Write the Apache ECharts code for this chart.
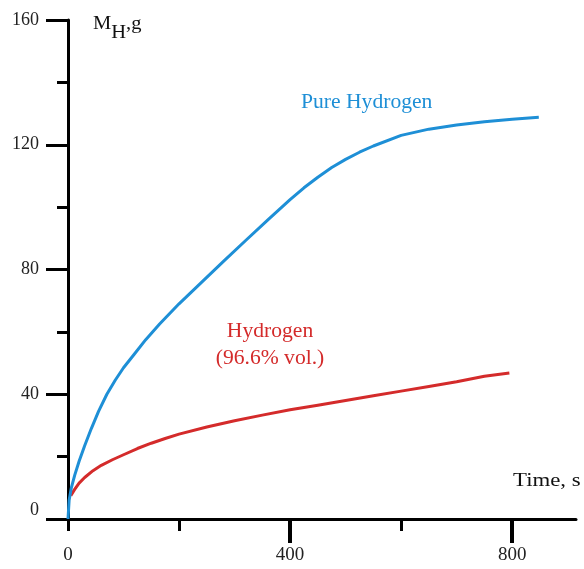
<!DOCTYPE html>
<html>
<head>
<meta charset="utf-8">
<script src="https://cdn.jsdelivr.net/npm/echarts@6/dist/echarts.min.js"></script>
<style>
  html, body { margin: 0; padding: 0; background: #fff; }
  #chart { width: 584px; height: 569px; }
</style>
</head>
<body>
<div id="chart"></div>
<script>
// Hydrogen mass absorbed over time
const pureTime = [0, 2, 6, 12, 20, 30, 42, 55, 70, 85, 100, 120, 140, 165, 200, 240, 280, 320, 360, 400, 425, 450, 475, 500, 525, 550, 600, 650, 700, 750, 800, 848];
const pureMass = [0, 6, 10, 14, 18.5, 23.5, 29, 34.5, 40, 44.5, 48.5, 53, 57.5, 62.5, 69, 75.8, 82.6, 89.3, 95.9, 102.4, 106.2, 109.6, 112.7, 115.3, 117.6, 119.6, 123, 125, 126.3, 127.4, 128.2, 128.8];

const mixTime = [5, 12, 20, 30, 45, 60, 80, 100, 125, 150, 175, 200, 250, 300, 350, 400, 450, 500, 550, 600, 650, 700, 750, 795];
const mixMass = [7.5, 9.5, 11.5, 13.3, 15.5, 17.2, 19, 20.6, 22.6, 24.3, 25.8, 27.2, 29.5, 31.5, 33.3, 35, 36.5, 38, 39.5, 41, 42.5, 44, 45.8, 46.8];

const xMajorTicks = [400, 800];
const xMinorTicks = [0, 200, 600];
const xLabels = [0, 400, 800];
const yMajorTicks = [0, 40, 80, 120, 160];
const yMinorTicks = [20, 60, 100, 140];

const BLUE = '#1e8fd6';
const RED = '#d42b2b';
const FONT = '"Liberation Serif", "Times New Roman", serif';

const zip = (xs, ys) => xs.map((x, i) => [x, ys[i]]);

const chart = echarts.init(document.getElementById('chart'));

const baseX = { type: 'value', min: 0, max: 915, position: 'bottom', splitLine: { show: false } };
const baseY = { type: 'value', min: 0, max: 160, position: 'left', splitLine: { show: false } };

chart.setOption({
  animation: false,
  grid: { left: 68, top: 20, right: 8, bottom: 50, containLabel: false },
  xAxis: [
    Object.assign({}, baseX, {
      axisLine: { show: true, lineStyle: { color: '#000', width: 3 } },
      axisTick: { show: true, customValues: xMajorTicks, length: 24, lineStyle: { color: '#000', width: 4 } },
      axisLabel: { show: true, customValues: xLabels, margin: 27, color: '#222', fontFamily: FONT, fontSize: 19 }
    }),
    Object.assign({}, baseX, {
      axisLine: { show: false },
      axisTick: { show: true, customValues: xMinorTicks, length: 12, lineStyle: { color: '#000', width: 3 } },
      axisLabel: { show: false }
    })
  ],
  yAxis: [
    Object.assign({}, baseY, {
      axisLine: { show: true, lineStyle: { color: '#000', width: 3 } },
      axisTick: { show: true, customValues: yMajorTicks, length: 22, lineStyle: { color: '#000', width: 3 } },
      axisLabel: {
        show: true, customValues: yMajorTicks, margin: 29, color: '#222', fontFamily: FONT, fontSize: 18,
        formatter: v => v === 0 ? '{z|0}' : String(v),
        rich: { z: { fontFamily: FONT, fontSize: 18, color: '#222', padding: [0, 0, 18, 0] } }
      }
    }),
    Object.assign({}, baseY, {
      axisLine: { show: false },
      axisTick: { show: true, customValues: yMinorTicks, length: 11, lineStyle: { color: '#000', width: 3 } },
      axisLabel: { show: false }
    })
  ],
  series: [
    {
      name: 'Pure Hydrogen', type: 'line', xAxisIndex: 0, yAxisIndex: 0,
      data: zip(pureTime, pureMass), showSymbol: false, symbol: 'none',
      lineStyle: { color: BLUE, width: 3 }, z: 3
    },
    {
      name: 'Hydrogen (96.6% vol.)', type: 'line', xAxisIndex: 0, yAxisIndex: 0,
      data: zip(mixTime, mixMass), showSymbol: false, symbol: 'none',
      lineStyle: { color: RED, width: 3 }, z: 2
    }
  ],
  graphic: [
    {
      type: 'text', x: 93, y: 15, scaleX: 1.08,
      style: {
        text: '{a|M}{b|H}{a|,g}',
        rich: {
          a: { fontFamily: FONT, fontSize: 19, lineHeight: 20, fill: '#111', color: '#111', verticalAlign: 'top' },
          b: { fontFamily: FONT, fontSize: 19, lineHeight: 20, fill: '#111', color: '#111', padding: [16, 0, 0, 0] }
        }
      }
    },
    {
      type: 'text', x: 301, y: 103, scaleX: 1.08,
      style: { text: 'Pure Hydrogen', fill: BLUE, font: '20px ' + FONT, verticalAlign: 'middle' }
    },
    {
      type: 'text', x: 270, y: 332, scaleX: 1.08,
      style: { text: 'Hydrogen', fill: RED, font: '20px ' + FONT, align: 'center', verticalAlign: 'middle' }
    },
    {
      type: 'text', x: 270, y: 359, scaleX: 1.08,
      style: { text: '(96.6% vol.)', fill: RED, font: '20px ' + FONT, align: 'center', verticalAlign: 'middle' }
    },
    {
      type: 'text', x: 513, y: 481, scaleX: 1.2,
      style: { text: 'Time, s', fill: '#111', font: '19px ' + FONT, verticalAlign: 'middle' }
    }
  ]
});
</script>
</body>
</html>
